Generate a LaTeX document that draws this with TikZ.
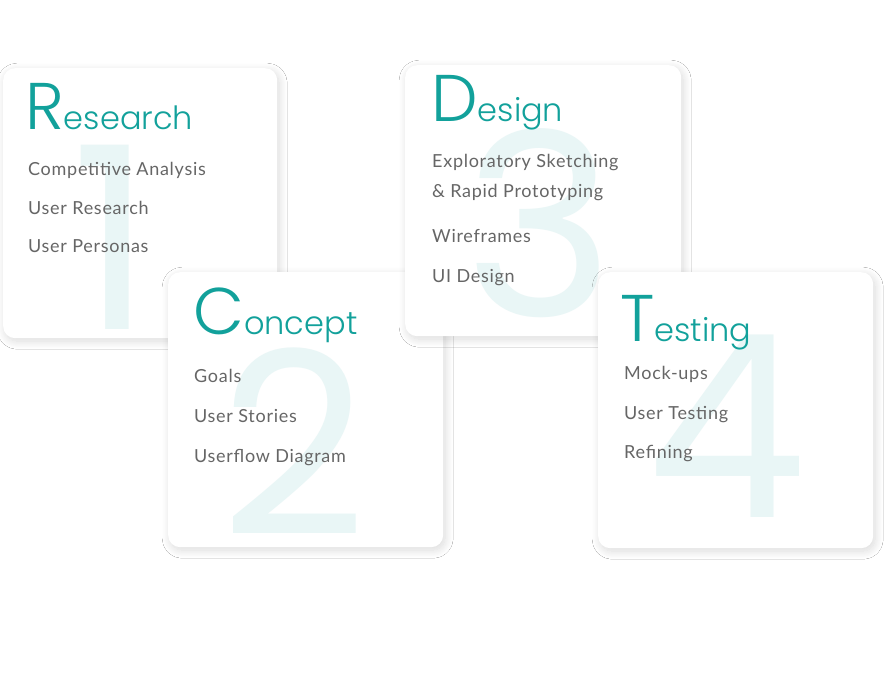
\documentclass[tikz,border=0pt]{standalone}
\usepackage{fontspec}
\setmainfont{Lato}[LetterSpace=4]
\newfontfamily\titlefont{Poppins Light}
\newfontfamily\numfont{Poppins}
\usetikzlibrary{shadows.blur}

\definecolor{accent}{HTML}{12A19B}
\definecolor{bodygray}{HTML}{666666}
\definecolor{ghost}{HTML}{E9F6F6}

\tikzset{
  card/.style={fill=white, rounded corners=12pt, anchor=north west,
    blur shadow={shadow xshift=2pt, shadow yshift=-3pt,
      shadow blur radius=8pt, shadow opacity=15, shadow blur steps=16}},
  bignum/.style={anchor=base, text=ghost, inner sep=0pt,
    font=\numfont\fontsize{255}{255}\selectfont},
  title/.style={anchor=base west, text=accent, inner sep=0pt},
  item/.style={anchor=base west, text=bodygray, inner sep=0pt,
    font=\fontsize{18}{18}\selectfont},
}
\newcommand{\headword}[2]{{\titlefont\fontsize{66}{66}\selectfont #1}{\titlefont\fontsize{32}{32}\selectfont #2}}

\begin{document}
\begin{tikzpicture}[x=1pt, y=-1pt]
  \useasboundingbox[fill=white] (0,0) rectangle (886,700);

  % Step 1
  \node[card, minimum width=274pt, minimum height=270pt] (card1) at (3,68) {};
  \node[bignum] (num1) at (112,330) {1};
  \node[title] (title1) at (25,130) {\headword{R}{esearch}};
  \node[item] (i11) at (28,176) {Competitive Analysis};
  \node[item] (i12) at (28,215) {User Research};
  \node[item] (i13) at (28,253) {User Personas};

  % Step 2
  \node[card, minimum width=275pt, minimum height=275pt] (card2) at (168,272) {};
  \node[bignum] (num2) at (294,535) {2};
  \node[title] (title2) at (193,335) {\headword{C}{oncept}};
  \node[item] (i21) at (194,383) {Goals};
  \node[item] (i22) at (194,422) {User Stories};
  \node[item] (i23) at (194,462) {Userflow Diagram};

  % Step 3
  \node[card, minimum width=276pt, minimum height=271pt] (card3) at (405,65) {};
  \node[bignum] (num3) at (540,317) {3};
  \node[title] (title3) at (431,122) {\headword{D}{esign}};
  \node[item] (i31) at (432,168) {Exploratory Sketching};
  \node[item] (i32) at (432,198) {\& Rapid Prototyping};
  \node[item] (i33) at (432,243) {Wireframes};
  \node[item] (i34) at (432,283) {UI Design};

  % Step 4
  \node[card, minimum width=275pt, minimum height=276pt] (card4) at (598,272) {};
  \node[bignum] (num4) at (727,517) {4};
  \node[title] (title4) at (620,342) {\headword{T}{esting}};
  \node[item] (i41) at (624,380) {Mock-ups};
  \node[item] (i42) at (624,419) {User Testing};
  \node[item] (i43) at (624,458) {Refining};
\end{tikzpicture}
\end{document}
